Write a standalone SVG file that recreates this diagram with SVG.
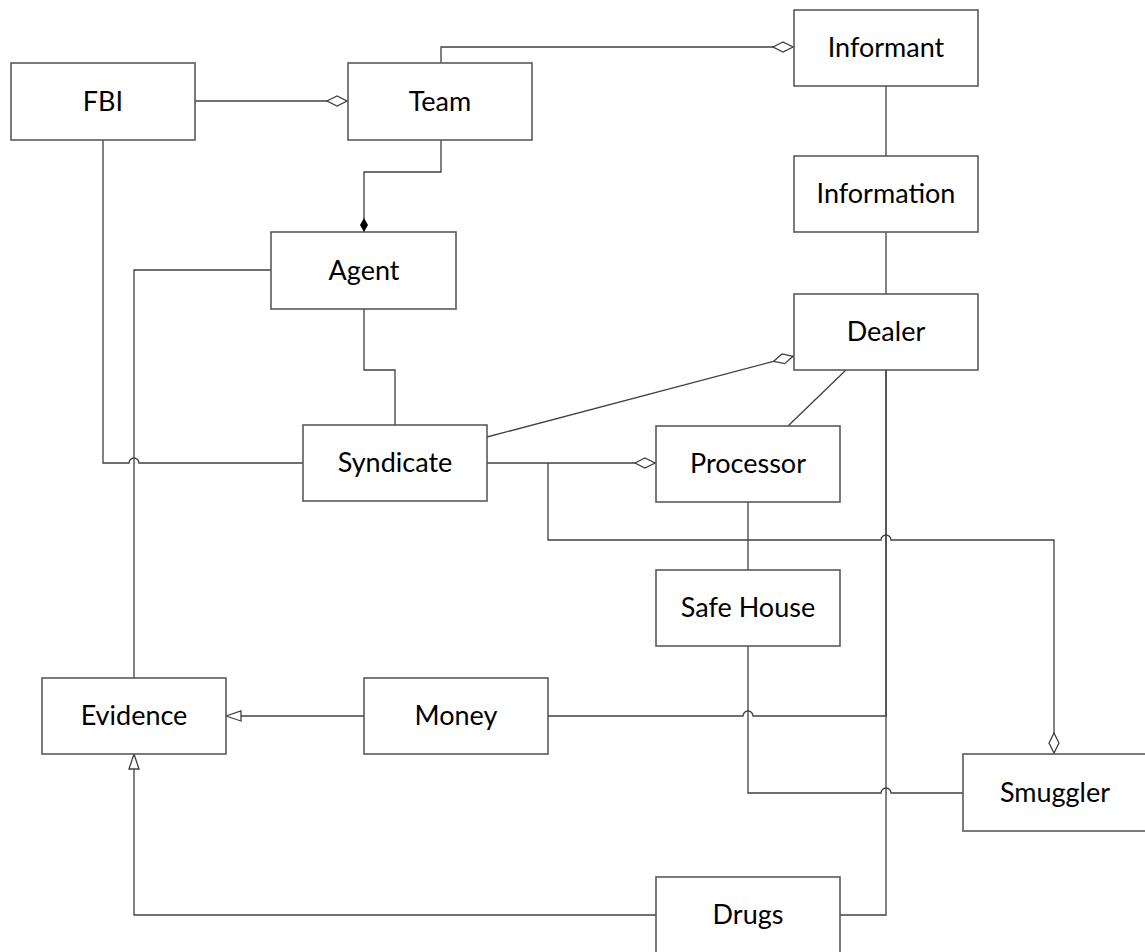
<svg xmlns="http://www.w3.org/2000/svg" width="1145" height="952" viewBox="0 0 1145 952">
<style>
.box{fill:#fff;stroke:#5a5a5a;stroke-width:1.6}
.lbl{font-family:Lato,"Liberation Sans",sans-serif;font-size:27px;fill:#000;text-anchor:middle}
.con{fill:none;stroke:#404040;stroke-width:1.3}
</style>
<defs>
<marker id="odia" markerUnits="userSpaceOnUse" viewBox="0 0 22 12" refX="22" refY="6" markerWidth="22" markerHeight="12" orient="auto">
<path d="M1,6 L11,1 L21,6 L11,11 Z" fill="#fff" stroke="#404040" stroke-width="1.3"/>
</marker>
<marker id="fdia" markerUnits="userSpaceOnUse" viewBox="0 0 14 8" refX="14" refY="4" markerWidth="14" markerHeight="8" orient="auto">
<path d="M0,4 L7,0 L14,4 L7,8 Z" fill="#000"/>
</marker>
<marker id="tri" markerUnits="userSpaceOnUse" viewBox="0 0 17 12" refX="16" refY="6" markerWidth="17" markerHeight="12" orient="auto">
<path d="M1,1 L16,6 L1,11 Z" fill="#fff" stroke="#404040" stroke-width="1.3"/>
</marker>
</defs>
<rect width="1145" height="952" fill="#fff"/>
<g id="connectors">
<path class="con" d="M195,101 H348" marker-end="url(#odia)"/>
<path class="con" d="M441,63 V47 H794" marker-end="url(#odia)"/>
<path class="con" d="M441,140 V172 H364 V232" marker-end="url(#fdia)"/>
<path class="con" d="M886,86 V156"/>
<path class="con" d="M886,232 V294"/>
<path class="con" d="M271,270 H134 V678"/>
<path class="con" d="M103,140 V463 H129 A5,5 0 0 1 139,463 H303"/>
<path class="con" d="M364,309 V370 H395 V425"/>
<path class="con" d="M487,437 L794,356" marker-end="url(#odia)"/>
<path class="con" d="M487,463 H656" marker-end="url(#odia)"/>
<path class="con" d="M548,463 V540 H881 A5,5 0 0 1 891,540 H1054 V754" marker-end="url(#odia)"/>
<path class="con" d="M846,370 L788,426"/>
<path class="con" d="M748,502 V570"/>
<path class="con" d="M886,370 V716 H753 A5,5 0 0 0 743,716 H548"/>
<path class="con" d="M748,646 V793 H881 A5,5 0 0 1 891,793 H963"/>
<path class="con" d="M364,716 H226" marker-end="url(#tri)"/>
<path class="con" d="M656,915 H134 V754" marker-end="url(#tri)"/>
<path class="con" d="M840,915 H886 V370"/>
</g>
<g id="FBI"><rect class="box" x="11" y="63" width="184" height="77"/><text class="lbl" x="103" y="111">FBI</text></g>
<g id="Team"><rect class="box" x="348" y="63" width="184" height="77"/><text class="lbl" x="440" y="111">Team</text></g>
<g id="Informant"><rect class="box" x="794" y="10" width="184" height="76"/><text class="lbl" x="886" y="57">Informant</text></g>
<g id="Information"><rect class="box" x="794" y="156" width="184" height="76"/><text class="lbl" x="886" y="203">Information</text></g>
<g id="Agent"><rect class="box" x="271" y="232" width="185" height="77"/><text class="lbl" x="364" y="280">Agent</text></g>
<g id="Dealer"><rect class="box" x="794" y="294" width="184" height="76"/><text class="lbl" x="886" y="341">Dealer</text></g>
<g id="Syndicate"><rect class="box" x="303" y="425" width="184" height="76"/><text class="lbl" x="395" y="472">Syndicate</text></g>
<g id="Processor"><rect class="box" x="656" y="426" width="184" height="76"/><text class="lbl" x="748" y="473">Processor</text></g>
<g id="SafeHouse"><rect class="box" x="656" y="570" width="184" height="76"/><text class="lbl" x="748" y="617">Safe House</text></g>
<g id="Evidence"><rect class="box" x="42" y="678" width="184" height="76"/><text class="lbl" x="134" y="725">Evidence</text></g>
<g id="Money"><rect class="box" x="364" y="678" width="184" height="76"/><text class="lbl" x="456" y="725">Money</text></g>
<g id="Smuggler"><rect class="box" x="963" y="754" width="184" height="77"/><text class="lbl" x="1055" y="802">Smuggler</text></g>
<g id="Drugs"><rect class="box" x="656" y="877" width="184" height="80"/><text class="lbl" x="748" y="924">Drugs</text></g>
</svg>
